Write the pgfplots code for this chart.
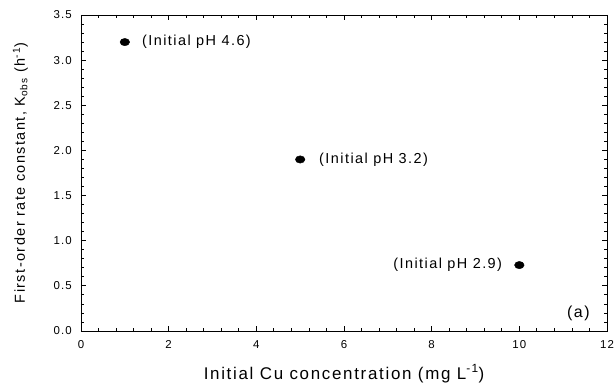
\documentclass[border=0pt]{standalone}
\usepackage{fontspec}
\setmainfont[LetterSpace=10]{Liberation Sans}
\newfontfamily\tickfont[LetterSpace=10]{Liberation Sans}
\usepackage{pgfplots}
\pgfplotsset{compat=1.18}
\begin{document}
\begin{tikzpicture}
\begin{axis}[
  scale only axis, width=526bp, height=316bp,
  xmin=0, xmax=12, ymin=0, ymax=3.5,
  xtick={0,2,4,6,8,10,12},
  ytick={0,0.5,1,1.5,2,2.5,3,3.5},
  minor x tick num=4, minor y tick num=4,
  tick align=inside, tick pos=both,
  major tick length=5bp, minor tick length=3bp,
  axis line style={line width=0.8bp, black},
  every tick/.style={black, line width=0.8bp},
  /pgf/number format/assume math mode=true,
  xticklabel style={font=\tickfont\fontsize{11.5}{13}\selectfont, inner sep=0pt, anchor=north, yshift=-9bp},
  yticklabel style={font=\tickfont\fontsize{11.5}{13}\selectfont, inner sep=0pt, anchor=east, xshift=-9bp,
    /pgf/number format/.cd, fixed, fixed zerofill, precision=1},
  xticklabel={\pgfmathprintnumber[fixed,precision=0]{\tick}},
  xlabel={Initial Cu concentration (mg L\textsuperscript{-1})},
  ylabel={First-order rate constant, K\textsubscript{obs} (h\textsuperscript{-1})},
  xlabel style={font=\fontsize{17}{20}\selectfont, at={(axis description cs:0.5,0)}, anchor=base, yshift=-48bp, inner sep=0pt},
  ylabel style={font=\fontsize{14.5}{17}\selectfont, at={(axis description cs:0,0.5)}, anchor=base, yshift=56bp, inner sep=0pt},
]
\addplot[only marks, mark=*, mark size=3.7bp, mark options={xscale=1.3, fill=black, draw=black}]
  coordinates {(1,3.2) (5,1.9) (10,0.73)};
\node[anchor=west, inner sep=0pt, font=\fontsize{14.5}{17}\selectfont] at (axis cs:1.39,3.2) {(Initial pH 4.6)};
\node[anchor=west, inner sep=0pt, font=\fontsize{14.5}{17}\selectfont] at (axis cs:5.43,1.9) {(Initial pH 3.2)};
\node[anchor=east, inner sep=0pt, font=\fontsize{14.5}{17}\selectfont] at (axis cs:9.61,0.73) {(Initial pH 2.9)};
\node[anchor=east, inner sep=0pt, font=\fontsize{16}{19}\selectfont] at (axis cs:11.61,0.2) {(a)};
\end{axis}
\pgfresetboundingbox
\path (current axis.south west) ++(-81bp,-54bp) rectangle ++(614bp,385bp);
\end{tikzpicture}
\end{document}
